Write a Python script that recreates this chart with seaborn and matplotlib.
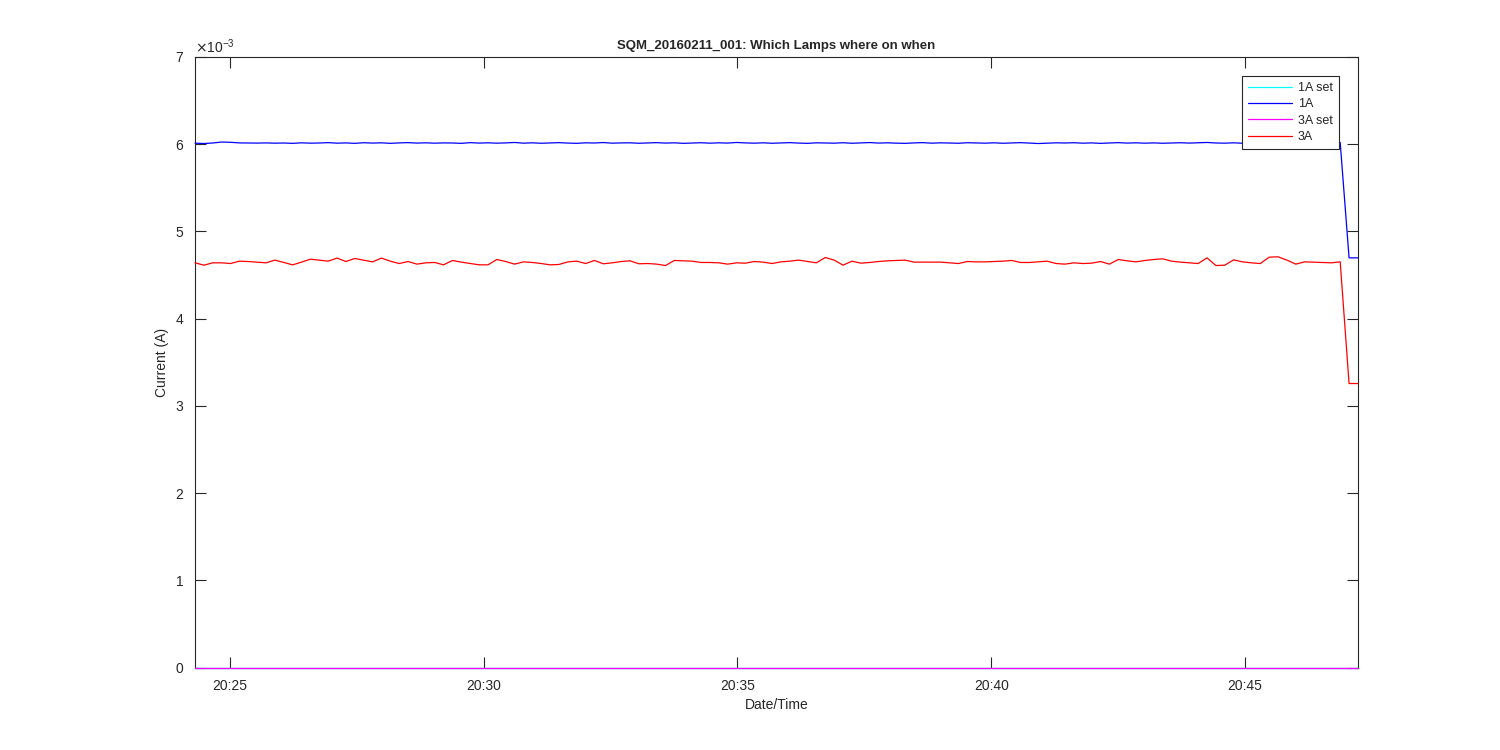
import numpy as np
import pandas as pd
import matplotlib
matplotlib.use("Agg")
import matplotlib.pyplot as plt
import matplotlib.dates as mdates
from matplotlib.ticker import ScalarFormatter
import seaborn as sns

# time span of the log (uniform sampling)
t_start = "2016-02-11 20:24:18.6"
t_end = "2016-02-11 20:47:13.6"

i_3a = [
    4.640, 4.613, 4.640, 4.640, 4.632, 4.659, 4.655, 4.648, 4.640, 4.671,
    4.644, 4.617, 4.648, 4.682, 4.671, 4.659, 4.694, 4.655, 4.690, 4.671,
    4.651, 4.694, 4.659, 4.632, 4.655, 4.625, 4.640, 4.644, 4.617, 4.667,
    4.648, 4.632, 4.617,
    4.617, 4.678, 4.655, 4.625, 4.651, 4.644, 4.632, 4.617, 4.621, 4.651,
    4.659, 4.632, 4.667, 4.629, 4.640, 4.655, 4.663, 4.629, 4.632, 4.625,
    4.609, 4.667, 4.663, 4.659, 4.644, 4.644, 4.640, 4.625, 4.640, 4.636,
    4.655, 4.648, 4.632,
    4.651, 4.659, 4.671, 4.655, 4.640, 4.701, 4.671, 4.613, 4.659, 4.636,
    4.644, 4.655, 4.663, 4.667, 4.671, 4.648, 4.648, 4.648, 4.648, 4.640,
    4.632, 4.655, 4.651, 4.651, 4.655, 4.659, 4.667, 4.644, 4.644, 4.651,
    4.659, 4.632, 4.625,
    4.640, 4.632, 4.636, 4.655, 4.625, 4.678, 4.663, 4.651, 4.667, 4.678,
    4.686, 4.659, 4.648, 4.640, 4.632, 4.697, 4.609, 4.613, 4.674, 4.651,
    4.640, 4.632, 4.705, 4.709, 4.671, 4.625, 4.651, 4.648, 4.644, 4.640,
    4.651,
    3.256, 3.256,
]

i_1a = [
    6.012, 6.008, 6.014, 6.025, 6.022, 6.015, 6.014, 6.013, 6.015, 6.012,
    6.014, 6.010, 6.016, 6.012, 6.014, 6.018, 6.012, 6.015, 6.010, 6.017,
    6.013, 6.016, 6.010, 6.015, 6.018, 6.013, 6.016, 6.012, 6.015, 6.014,
    6.010, 6.018, 6.013, 6.016, 6.012, 6.015, 6.020, 6.012, 6.016, 6.011,
    6.015, 6.018, 6.013, 6.010, 6.016, 6.014, 6.019, 6.012, 6.015, 6.016,
    6.011, 6.014, 6.018, 6.013, 6.016, 6.010, 6.014, 6.017, 6.012, 6.016,
    6.013, 6.020, 6.015, 6.012, 6.016, 6.011, 6.015, 6.018, 6.013, 6.010,
    6.016, 6.014, 6.012, 6.017, 6.011, 6.015, 6.019, 6.013, 6.016, 6.012,
    6.010, 6.015, 6.018, 6.012, 6.016, 6.013, 6.011, 6.017, 6.014, 6.012,
    6.016, 6.011, 6.015, 6.018, 6.013, 6.008, 6.012, 6.016, 6.014, 6.017,
    6.012, 6.015, 6.010, 6.014, 6.018, 6.013, 6.016, 6.012, 6.015, 6.011,
    6.014, 6.017, 6.013, 6.016, 6.020, 6.014, 6.012, 6.016, 6.011, 6.015,
    6.013, 6.017, 6.012, 6.016, 6.010, 6.014, 6.018, 6.013, 6.015, 6.020,
    4.697, 4.697,
]

# set-point channels are zero the whole time
set_1a = [0.0] * len(i_1a)
set_3a = [0.0] * len(i_3a)

labels = ["1A set", "1A", "3A set", "3A"]
colors = ["#00ffff", "#0000ff", "#ff00ff", "#ff0000"]

times = pd.date_range(t_start, t_end, periods=len(i_3a))

df = pd.concat([
    pd.DataFrame({"time": times, "current": np.array(v) * 1e-3, "lamp": lab})
    for v, lab in zip([set_1a, i_1a, set_3a, i_3a], labels)
])

sns.set_style("white")
plt.rcParams["font.family"] = ["Liberation Sans", "DejaVu Sans"]
plt.rcParams["axes.unicode_minus"] = False

fig = plt.figure(figsize=(15, 7.5), dpi=100)
ax = fig.add_axes([0.13, 0.11, 0.7753, 0.814])

sns.lineplot(data=df, x="time", y="current", hue="lamp", hue_order=labels,
             palette=colors, linewidth=0.9, ax=ax, legend=True)
for ln in ax.lines:
    ln.set_zorder(3)
    ln.set_clip_on(False)

ax.set_xlim(times[0], times[-1])
ax.set_ylim(0, 7e-3)
ax.set_yticks(np.arange(0, 8) * 1e-3)
fmt = ScalarFormatter(useMathText=True)
fmt.set_powerlimits((-2, 2))
ax.yaxis.set_major_formatter(fmt)
ax.yaxis.get_offset_text().set_fontsize(10)

ax.xaxis.set_major_locator(mdates.MinuteLocator(byminute=[25, 30, 35, 40, 45]))
ax.xaxis.set_major_formatter(mdates.DateFormatter("%H:%M"))

for sp in ax.spines.values():
    sp.set_color("#262626")
    sp.set_linewidth(0.8)
ax.tick_params(direction="in", length=8, width=0.8, bottom=True, left=True,
               top=True, right=True, labelsize=10, colors="#262626", pad=8)

ax.set_xlabel("Date/Time", fontsize=10, color="#262626")
ax.set_ylabel("Current (A)", fontsize=10, color="#262626")
ax.set_title("SQM_20160211_001: Which Lamps where on when",
             fontsize=9.5, fontweight="bold", color="#262626")

handles, _ = ax.get_legend_handles_labels()
leg = ax.legend(handles, labels, loc="upper right", fontsize=9,
                fancybox=False, edgecolor="#262626", framealpha=1,
                borderaxespad=1.5, handlelength=3.5, handletextpad=0.5,
                labelspacing=0.35, borderpad=0.5)
leg.get_frame().set_linewidth(0.8)

fig.savefig("out.png", dpi=100, facecolor="white")
